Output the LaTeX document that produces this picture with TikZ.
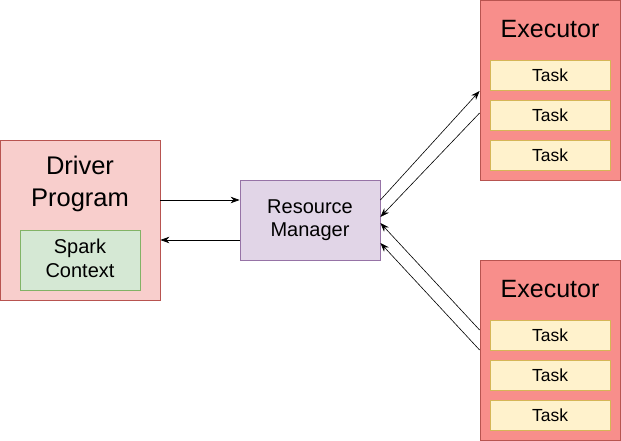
\documentclass[tikz,border=0pt]{standalone}
\usepackage{fontspec}
\setmainfont{Liberation Sans}
\usetikzlibrary{arrows.meta}
\definecolor{drvfill}{HTML}{F8CECC}
\definecolor{redstroke}{HTML}{B85450}
\definecolor{exefill}{HTML}{F88E8B}
\definecolor{grnfill}{HTML}{D5E8D4}
\definecolor{grnstroke}{HTML}{82B366}
\definecolor{purfill}{HTML}{E1D5E7}
\definecolor{purstroke}{HTML}{9673A6}
\definecolor{taskfill}{HTML}{FFF2CC}
\definecolor{taskstroke}{HTML}{D6B656}
\tikzset{
  box/.style={draw, line width=0.8pt, inner sep=0pt},
  tasknode/.style={box, fill=taskfill, draw=taskstroke, minimum width=120pt, minimum height=30pt, font=\fontsize{17.5}{20}\selectfont},
  conn/.style={line width=0.6pt, -{Stealth[length=9pt,width=6.5pt]}}
}
\begin{document}
\begin{tikzpicture}[x=1pt,y=-1pt]
\useasboundingbox (0,0) rectangle (621,441);
% driver
\node[box, fill=drvfill, draw=redstroke, minimum width=160pt, minimum height=160pt] (drv) at (80,220) {};
\node[font=\fontsize{25.5}{32}\selectfont, align=center] (drvt) at (80,184) {Driver\\Program};
\node[box, fill=grnfill, draw=grnstroke, minimum width=120pt, minimum height=60pt, align=center, font=\fontsize{20}{24}\selectfont] (sc) at (80,260) {};
\node[align=center, font=\fontsize{20}{24}\selectfont] (sct) at (80,258) {Spark\\Context};
% resource manager
\node[box, fill=purfill, draw=purstroke, minimum width=140pt, minimum height=80pt, align=center, font=\fontsize{20}{23.5}\selectfont] (rm) at (310,220) {Resource\\Manager};
% executor top
\node[box, fill=exefill, draw=redstroke, minimum width=140pt, minimum height=180pt] (e1) at (550,90) {};
\node[font=\fontsize{25}{30}\selectfont] (e1t) at (550,29) {Executor};
\node[tasknode] (t11) at (550,75) {Task};
\node[tasknode] (t12) at (550,115) {Task};
\node[tasknode] (t13) at (550,155) {Task};
% executor bottom
\node[box, fill=exefill, draw=redstroke, minimum width=140pt, minimum height=180pt] (e2) at (550,350) {};
\node[font=\fontsize{25}{30}\selectfont] (e2t) at (550,289) {Executor};
\node[tasknode] (t21) at (550,335) {Task};
\node[tasknode] (t22) at (550,375) {Task};
\node[tasknode] (t23) at (550,415) {Task};
% connectors
\draw[conn] (drv.east |- 0,200) -- (rm.west |- 0,200);
\draw[conn] (rm.west |- 0,240) -- (drv.east |- 0,240);
\draw[conn] (rm.east |- 0,200) -- (e1.west |- 0,91);
\draw[conn] (e1.west |- 0,113) -- (rm.east |- 0,217);
\draw[conn] (e2.west |- 0,330) -- (rm.east |- 0,223);
\draw[conn] (e2.west |- 0,350) -- (rm.east |- 0,243);
\end{tikzpicture}
\end{document}
